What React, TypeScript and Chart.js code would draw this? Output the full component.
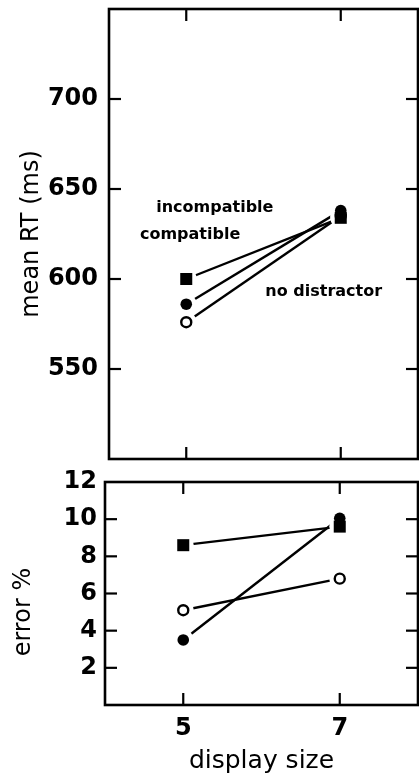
import React, { useEffect, useRef } from 'react';
import { Chart, registerables } from 'chart.js';
Chart.register(...registerables);

// ---- data ----
const displaySizes = [5, 7];
const rtIncompatible = [600, 634];
const rtCompatible = [586, 638];
const rtNoDistractor = [576, 635];
const errIncompatible = [8.6, 9.6];
const errCompatible = [3.5, 10.05];
const errNoDistractor = [5.1, 6.8];
const rtTicks = [550, 600, 650, 700];
const errTicks = [2, 4, 6, 8, 10, 12];
const annotationTexts = ['incompatible', 'compatible', 'no distractor'];
const annotationX = [5.37, 5.05, 6.78];
const annotationY = [639.5, 624.5, 593];
const errTitle = 'error %';
const errTitleY = 5; // axis value at which the rotated title is centred

const FONT = "'DejaVu Sans', sans-serif";

const pts = (ys: number[]) => displaySizes.map((x, i) => ({ x, y: ys[i] }));

type Series = { data: number[]; style: 'rect' | 'circle'; open: boolean; r: number; order: number };

function buildDatasets(series: Series[]) {
  const ds: any[] = [];
  series.forEach((s) => {
    ds.push({
      data: pts(s.data), showLine: true, borderColor: '#000', borderWidth: 2.4,
      pointRadius: 0, order: 30,
    });
  });
  series.forEach((s) => {
    ds.push({
      data: pts(s.data), showLine: false, pointStyle: 'circle', pointRadius: 10.5,
      pointBackgroundColor: '#fff', pointBorderWidth: 0, order: 20,
    });
  });
  series.forEach((s) => {
    ds.push({
      data: pts(s.data), showLine: false, pointStyle: s.style, pointRadius: s.r,
      pointBackgroundColor: s.open ? '#fff' : '#000', pointBorderColor: '#000',
      pointBorderWidth: s.open ? 2.4 : 0, order: s.order,
    });
  });
  return ds;
}

const framePlugin = {
  id: 'frame',
  beforeDatasetsDraw(chart: any, _a: any, opts: any) {
    const { ctx, chartArea: a, scales } = chart;
    ctx.save();
    ctx.strokeStyle = '#000';
    ctx.lineWidth = 2.6;
    ctx.strokeRect(a.left, a.top, a.right - a.left, a.bottom - a.top);
    ctx.lineWidth = 2.2;
    const L = 12;
    const line = (x1: number, y1: number, x2: number, y2: number) => {
      ctx.beginPath(); ctx.moveTo(x1, y1); ctx.lineTo(x2, y2); ctx.stroke();
    };
    displaySizes.forEach((v) => {
      const px = scales.x.getPixelForValue(v);
      line(px, a.top, px, a.top + L);
      line(px, a.bottom, px, a.bottom - L);
    });
    (opts.yTicks as number[]).forEach((v) => {
      const py = scales.y.getPixelForValue(v);
      if (py <= a.top + 1 || py >= a.bottom - 1) return;
      line(a.left, py, a.left + L, py);
      line(a.right, py, a.right - L, py);
    });
    ctx.restore();
  },
};

const labelPlugin = {
  id: 'seriesLabels',
  afterDatasetsDraw(chart: any, _a: any, opts: any) {
    if (!opts.texts) return;
    const { ctx, scales } = chart;
    ctx.save();
    ctx.fillStyle = '#000';
    ctx.font = `bold 16px ${FONT}`;
    ctx.textAlign = 'center';
    ctx.textBaseline = 'middle';
    (opts.texts as string[]).forEach((t, i) => {
      ctx.fillText(t, scales.x.getPixelForValue(opts.xs[i]), scales.y.getPixelForValue(opts.ys[i]));
    });
    ctx.restore();
  },
};

const yTitlePlugin = {
  id: 'yTitle',
  afterDraw(chart: any, _a: any, opts: any) {
    if (!opts.text) return;
    const { ctx, scales } = chart;
    ctx.save();
    ctx.fillStyle = '#000';
    ctx.font = `24px ${FONT}`;
    ctx.textAlign = 'center';
    ctx.textBaseline = 'middle';
    ctx.translate(opts.x, scales.y.getPixelForValue(opts.value));
    ctx.rotate(-Math.PI / 2);
    ctx.fillText(opts.text, 0, 0);
    ctx.restore();
  },
};

const noPad = (s: any) => { s.paddingTop = 0; s.paddingBottom = 0; s.paddingLeft = 0; s.paddingRight = 0; };

function useChart(ref: React.RefObject<HTMLCanvasElement>, make: (c: HTMLCanvasElement) => Chart) {
  useEffect(() => {
    if (!ref.current) return;
    const ch = make(ref.current);
    return () => ch.destroy();
  }, []);
}

export default function App() {
  const topRef = useRef<HTMLCanvasElement>(null);
  const botRef = useRef<HTMLCanvasElement>(null);

  useEffect(() => { document.body.style.margin = '0'; }, []);

  useChart(topRef, (c) => new Chart(c, {
    type: 'scatter',
    data: {
      datasets: buildDatasets([
        { data: rtIncompatible, style: 'rect', open: false, r: 8.5, order: 11 },
        { data: rtCompatible, style: 'circle', open: false, r: 5.8, order: 10 },
        { data: rtNoDistractor, style: 'circle', open: true, r: 5, order: 12 },
      ]),
    },
    options: {
      animation: false, responsive: false, events: [],
      layout: { autoPadding: false, padding: { top: 9, right: 1, bottom: 11, left: 0 } },
      plugins: {
        legend: { display: false }, tooltip: { enabled: false },
        frame: { yTicks: rtTicks },
        seriesLabels: { texts: annotationTexts, xs: annotationX, ys: annotationY },
      } as any,
      scales: {
        x: { type: 'linear', min: 4, max: 8, display: false, afterFit: noPad },
        y: {
          type: 'linear', min: 500, max: 750,
          afterBuildTicks: (s: any) => { s.ticks = rtTicks.map((v) => ({ value: v })); },
          afterFit: (s: any) => { s.width = 109; noPad(s); },
          grid: { display: false, drawTicks: false },
          border: { display: false },
          ticks: { color: '#000', padding: 11, font: { family: FONT, size: 24, weight: 'bold' } },
          title: {
            display: true, text: 'mean RT (ms)', color: '#000',
            font: { family: FONT, size: 24 }, padding: { top: 17, bottom: 0 },
          },
        },
      },
    },
    plugins: [framePlugin, labelPlugin],
  } as any));

  useChart(botRef, (c) => new Chart(c, {
    type: 'scatter',
    data: {
      datasets: buildDatasets([
        { data: errIncompatible, style: 'rect', open: false, r: 8.5, order: 11 },
        { data: errCompatible, style: 'circle', open: false, r: 5.8, order: 10 },
        { data: errNoDistractor, style: 'circle', open: true, r: 5, order: 12 },
      ]),
    },
    options: {
      animation: false, responsive: false, events: [],
      layout: { autoPadding: false, padding: { top: 12, right: 1, bottom: 0, left: 0 } },
      plugins: {
        legend: { display: false }, tooltip: { enabled: false },
        frame: { yTicks: errTicks },
        yTitle: { text: errTitle, x: 24, value: errTitleY },
      } as any,
      scales: {
        x: {
          type: 'linear', min: 4, max: 8,
          afterBuildTicks: (s: any) => { s.ticks = displaySizes.map((v) => ({ value: v })); },
          afterFit: (s: any) => { s.height = 69; noPad(s); },
          grid: { display: false, drawTicks: false },
          border: { display: false },
          ticks: { color: '#000', padding: 9, maxRotation: 0, font: { family: FONT, size: 24, weight: 'bold' } },
          title: {
            display: true, text: 'display size', color: '#000',
            font: { family: FONT, size: 25, lineHeight: 1 }, padding: 0,
          },
        },
        y: {
          type: 'linear', min: 0, max: 12,
          afterBuildTicks: (s: any) => { s.ticks = errTicks.map((v) => ({ value: v })); },
          afterFit: (s: any) => { s.width = 105; noPad(s); },
          grid: { display: false, drawTicks: false },
          border: { display: false },
          ticks: { color: '#000', padding: 8, font: { family: FONT, size: 24, weight: 'bold' } },
          title: { display: false },
        },
      },
    },
    plugins: [framePlugin, yTitlePlugin],
  } as any));

  return (
    <div style={{ position: 'absolute', left: 0, top: 0, width: 419, height: 774, background: '#fff' }}>
      <canvas ref={topRef} width={419} height={470} style={{ position: 'absolute', left: 0, top: 0, width: 419, height: 470 }} />
      <canvas ref={botRef} width={419} height={304} style={{ position: 'absolute', left: 0, top: 470, width: 419, height: 304 }} />
    </div>
  );
}
